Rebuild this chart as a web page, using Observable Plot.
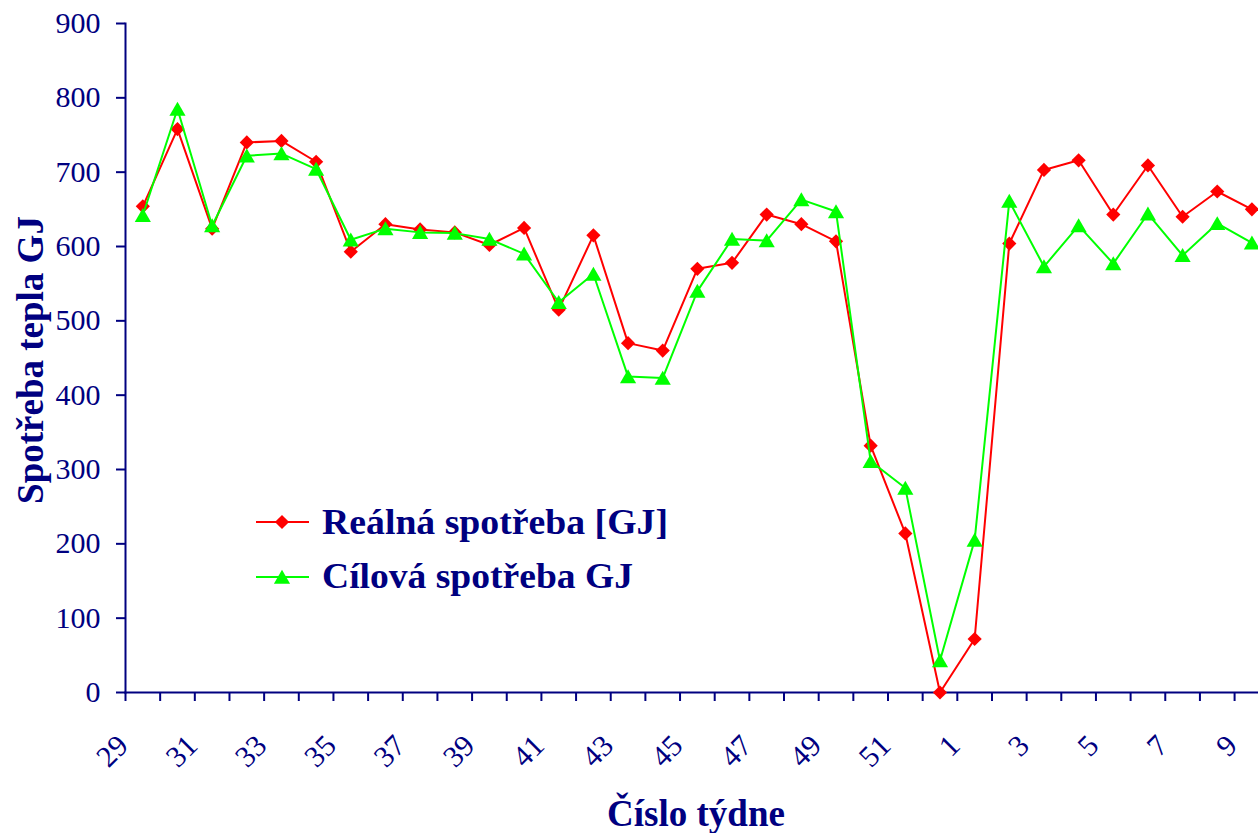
<!DOCTYPE html>
<html>
<head>
<meta charset="utf-8">
<script src="https://cdn.jsdelivr.net/npm/d3@7"></script>
<script src="https://cdn.jsdelivr.net/npm/@observablehq/plot@0.6"></script>
<style>
  body { margin: 0; background: #fff; overflow: hidden; }
  #wrap { position: relative; width: 1258px; height: 833px; }
  #legend { position: absolute; left: 0; top: 0; pointer-events: none; }
</style>
</head>
<body>
<div id="wrap">
  <div id="chart"></div>
  <svg id="legend" width="1258" height="833"></svg>
</div>
<script>
// ---- data ----
const weeks = [29,30,31,32,33,34,35,36,37,38,39,40,41,42,43,44,45,46,47,48,49,50,51,52,1,2,3,4,5,6,7,8,9];
const realna = [654,758,624,740,742,714,593,630,623,619,602,625,515,615,470,460,570,578,643,630,607,332,214,0,72,604,703,716,643,709,640,674,650];
const cilova = [642,785,628,722,725,704,609,624,619,618,610,590,525,563,425,423,540,610,608,663,647,311,275,43,205,661,573,628,577,644,588,631,605];
const seriesNames = ["Reálná spotřeba [GJ]", "Cílová spotřeba GJ"];
const yTicks = [0,100,200,300,400,500,600,700,800,900];
const xLabelWeeks = [29,31,33,35,37,39,41,43,45,47,49,51,1,3,5,7,9];
const yTitle = "Spotřeba tepla GJ";
const xTitle = "Číslo týdne";

// ---- styles ----
const navy = "#000080";
const red = "#ff0000";
const green = "#00ff00";
const font = "'Liberation Serif', 'Times New Roman', serif";

const rows = [];
weeks.forEach((w, i) => {
  rows.push({i, week: w, value: realna[i], series: seriesNames[0]});
  rows.push({i, week: w, value: cilova[i], series: seriesNames[1]});
});
const realRows = rows.filter(d => d.series === seriesNames[0]);
const targetRows = rows.filter(d => d.series === seriesNames[1]);
const boundaries = weeks.map((_, i) => i - 0.5);
const labelRows = weeks.map((w, i) => ({i, week: w})).filter(d => xLabelWeeks.includes(d.week) && (d.i % 2 === 0));

const chart = Plot.plot({
  width: 1258,
  height: 833,
  marginLeft: 125,
  marginRight: 0,
  marginTop: 23,
  marginBottom: 141,
  style: {fontFamily: font, color: navy, background: "#fff"},
  x: {type: "linear", domain: [-0.5, 32.19], axis: null, label: null},
  y: {domain: [0, 900], axis: null, label: null},
  marks: [
    Plot.axisY({ticks: yTicks, label: null, tickSize: 9, tickPadding: 16, fontSize: 30, strokeWidth: 2, stroke: navy, fill: navy}),
    Plot.axisX({ticks: boundaries, label: null, tickSize: 9, tickFormat: () => "", strokeWidth: 2, stroke: navy}),
    Plot.frame({anchor: "left", stroke: navy, strokeWidth: 2}),
    Plot.frame({anchor: "bottom", stroke: navy, strokeWidth: 2}),
    Plot.text(labelRows, {
      x: "i", text: d => String(d.week), frameAnchor: "bottom",
      rotate: -45, textAnchor: "end", lineAnchor: "bottom",
      dx: -13, dy: 55, fontSize: 30, fill: navy
    }),
    Plot.text([yTitle], {
      text: d => d, frameAnchor: "left", rotate: -90, textAnchor: "middle", lineAnchor: "bottom",
      dx: -83, dy: 2, fontSize: 37, fontWeight: "bold", fill: navy
    }),
    Plot.text([xTitle], {
      text: d => d, frameAnchor: "bottom", textAnchor: "middle", lineAnchor: "bottom",
      dx: 4, dy: 133, fontSize: 37, fontWeight: "bold", fill: navy
    }),
    Plot.line(realRows, {x: "i", y: "value", stroke: red, strokeWidth: 2}),
    Plot.dot(realRows, {x: "i", y: "value", symbol: "diamond2", r: 6.4, fill: red, stroke: "none"}),
    Plot.line(targetRows, {x: "i", y: "value", stroke: green, strokeWidth: 2}),
    Plot.dot(targetRows, {x: "i", y: "value", symbol: "triangle", r: 6, fill: green, stroke: "none", dy: 2})
  ]
});
document.getElementById("chart").appendChild(chart);

// ---- legend (inside plot area) ----
const leg = d3.select("#legend");
const items = [
  {name: seriesNames[0], color: red, sym: d3.symbolDiamond2, r: 6.4, cy: 522, base: 534, len: 346},
  {name: seriesNames[1], color: green, sym: d3.symbolTriangle, r: 6, cy: 577, base: 588, len: 311}
];
items.forEach(it => {
  leg.append("line").attr("x1", 256).attr("x2", 309).attr("y1", it.cy).attr("y2", it.cy)
    .attr("stroke", it.color).attr("stroke-width", 2);
  leg.append("path").attr("d", d3.symbol(it.sym, Math.PI * it.r * it.r)())
    .attr("transform", `translate(282,${it.cy + (it.sym === d3.symbolTriangle ? 2 : 0)})`)
    .attr("fill", it.color);
  leg.append("text").attr("x", 322).attr("y", it.base).text(it.name)
    .attr("fill", navy).attr("font-family", font).attr("font-weight", "bold").attr("font-size", 35)
    .attr("textLength", it.len).attr("lengthAdjust", "spacingAndGlyphs");
});
</script>
</body>
</html>
